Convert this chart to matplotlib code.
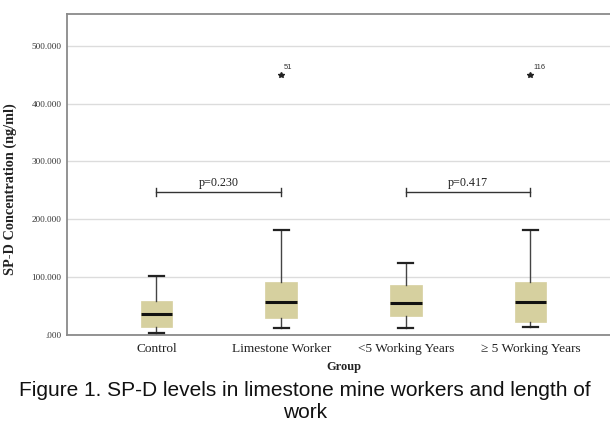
import matplotlib
matplotlib.use("Agg")
from matplotlib import pyplot as plt

# data (ng/ml)
groups = ["Control", "Limestone Worker", "<5 Working Years", "\u2265 5 Working Years"]
whis_low = [3, 11.5, 11.5, 14]
q1 = [13, 29, 33, 23]
median = [37, 57, 56, 57]
q3 = [59, 91, 87, 91]
whis_high = [102, 182, 124, 182]
outliers = [[], [450], [], [450]]
outlier_ids = [[], ["51"], [], ["116"]]

p_labels = ["p=0.230", "p=0.417"]
p_pairs = [(1, 2), (3, 4)]
p_height = 247

yticks = [0, 100, 200, 300, 400, 500]
ytick_labels = [".000", "100.000", "200.000", "300.000", "400.000", "500.000"]

serif = ["Liberation Serif", "DejaVu Serif"]
sans = ["Liberation Sans", "DejaVu Sans"]

fig = plt.figure(figsize=(6.1, 4.23), dpi=100)
ax = fig.add_axes([0.1098, 0.208, 0.9066, 0.7589])

stats = []
for i, name in enumerate(groups):
    stats.append({
        "label": name,
        "whislo": whis_low[i],
        "q1": q1[i],
        "med": median[i],
        "q3": q3[i],
        "whishi": whis_high[i],
        "fliers": outliers[i],
    })

positions = list(range(1, len(groups) + 1))
ax.bxp(stats, positions=positions, widths=0.256, patch_artist=True,
       capwidths=0.12,
       boxprops=dict(facecolor="#d6d09f", edgecolor="#d6d09f", linewidth=0.5),
       medianprops=dict(color="#111111", linewidth=2.2),
       whiskerprops=dict(color="#444444", linewidth=1.0),
       capprops=dict(color="#222222", linewidth=1.6),
       flierprops=dict(marker="*", markersize=4, markerfacecolor="#222222",
                       markeredgecolor="#222222", linestyle="none"),
       zorder=3)

# outlier case numbers
for pos, vals, ids in zip(positions, outliers, outlier_ids):
    for v, lab in zip(vals, ids):
        ax.annotate(lab, (pos, v), xytext=(2, 4), textcoords="offset points",
                    fontsize=5.5, family=sans, color="#333333")

# significance brackets
for (a, b), lab in zip(p_pairs, p_labels):
    ax.plot([a, b], [p_height, p_height], color="#333333", lw=1.0, zorder=3)
    for x in (a, b):
        ax.plot([x, x], [p_height - 7, p_height + 7], color="#333333", lw=1.0, zorder=3)
    ax.text((a + b) / 2, p_height + 6, lab, ha="center", va="bottom",
            fontsize=8.7, family=serif, color="#222222")

ax.set_xlim(0.282, 4.718)
ax.set_ylim(0, 555)
ax.set_yticks(yticks)
ax.set_yticklabels(ytick_labels, fontsize=6.6, family=serif, color="#333333")
ax.set_xticks(positions)
ax.set_xticklabels(groups, fontsize=9.6, family=serif, color="#222222")
ax.tick_params(axis="both", length=0)
ax.tick_params(axis="y", pad=4)
ax.tick_params(axis="x", pad=6)

ax.grid(axis="y", color="#dcdcdc", linewidth=1.0, zorder=0)
ax.set_axisbelow(True)
for side in ["left", "bottom", "top"]:
    ax.spines[side].set_color("#8a8a8a")
    ax.spines[side].set_linewidth(1.3)
ax.spines["right"].set_visible(False)

ax.set_ylabel("SP-D Concentration (ng/ml)", fontsize=10.3, family=serif,
              fontweight="bold", color="#222222")
ax.yaxis.set_label_coords(-0.0904, 0.455)
ax.set_xlabel("Group", fontsize=8.9, family=serif, fontweight="bold", color="#222222")
ax.xaxis.set_label_coords(0.5, -0.081)

fig.text(0.5, 0.052, "Figure 1. SP-D levels in limestone mine workers and length of\nwork",
         ha="center", va="center", multialignment="center", fontsize=15,
         family=sans, color="#111111", linespacing=1.2)

fig.savefig("out.png", dpi=100)
